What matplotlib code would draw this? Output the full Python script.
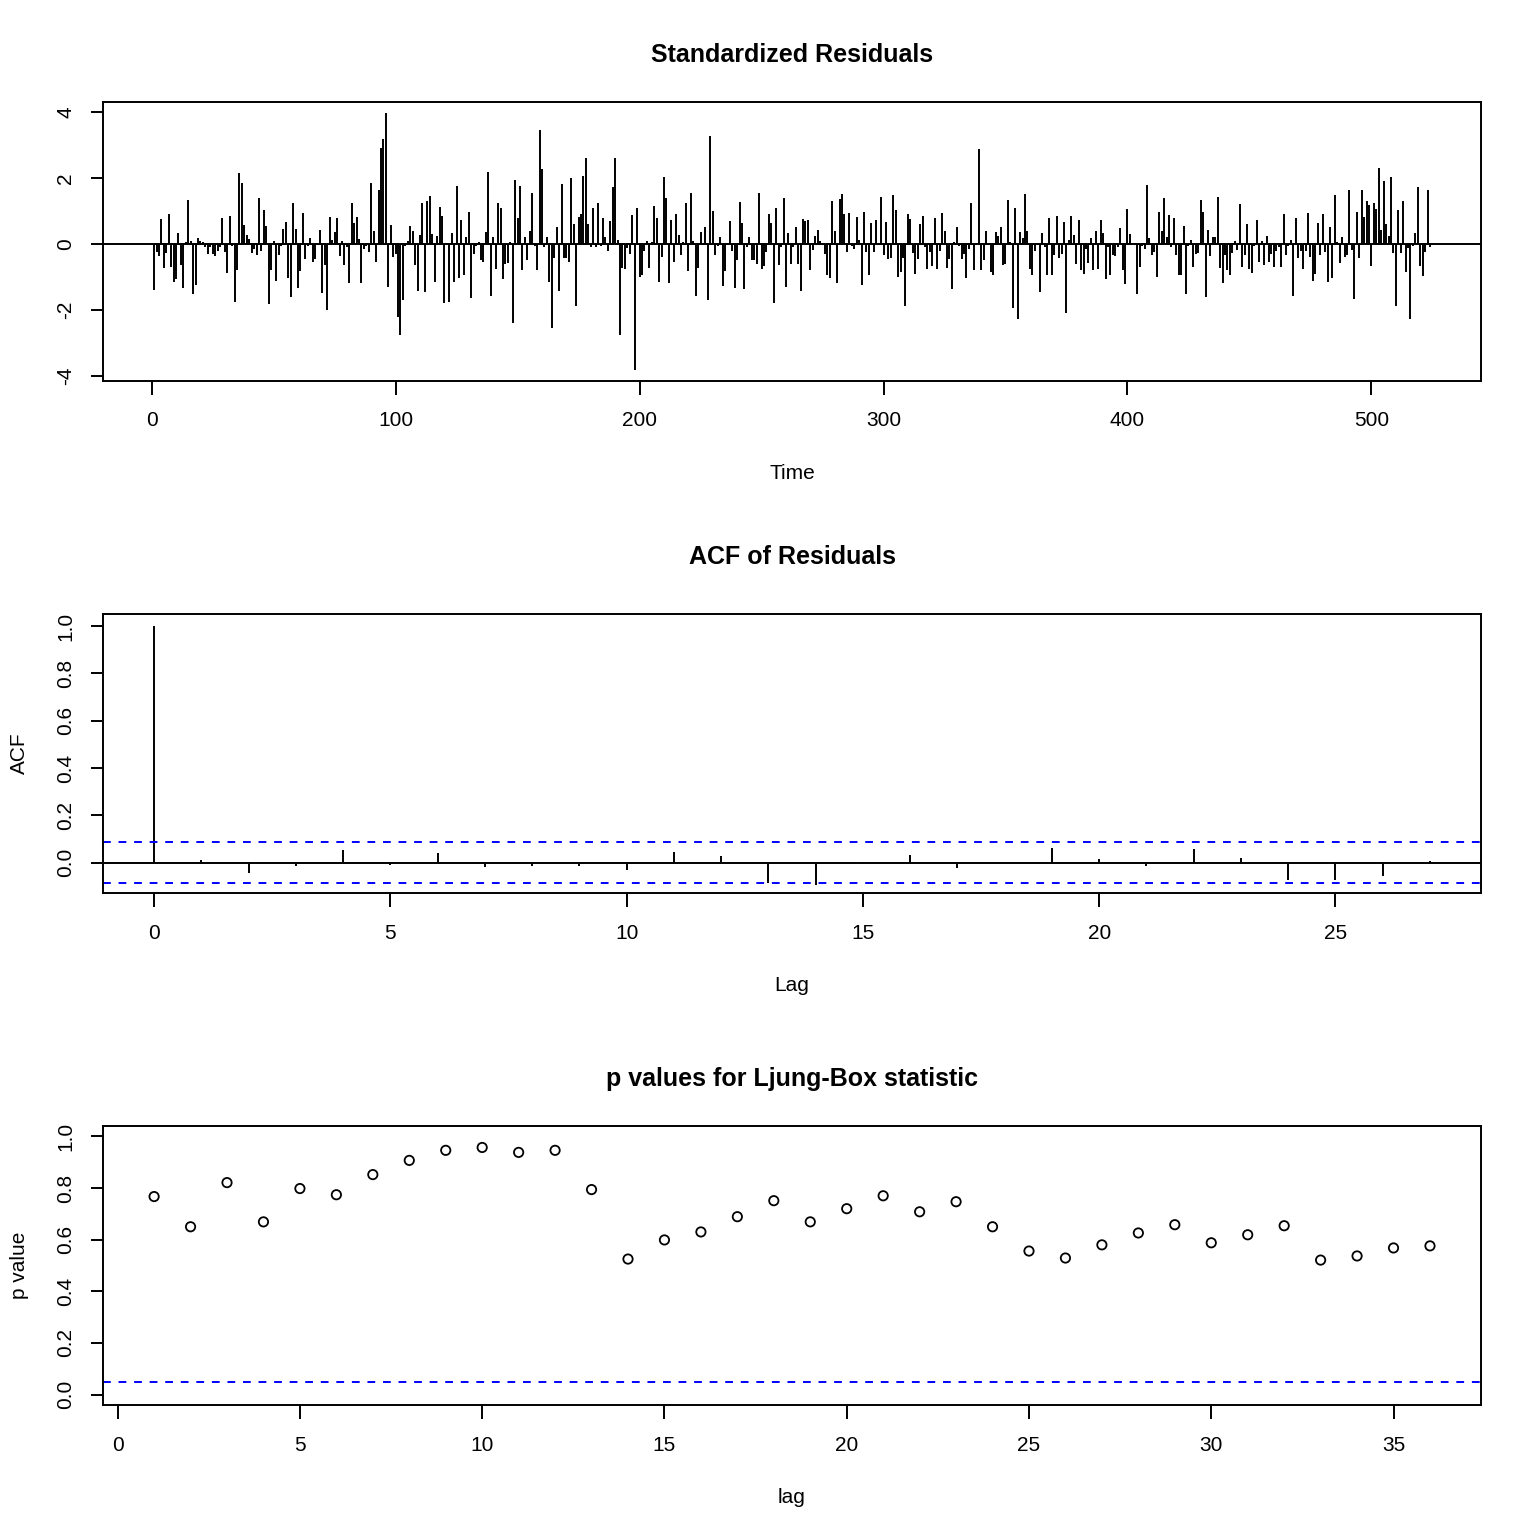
import matplotlib
matplotlib.use('Agg')
import matplotlib.pyplot as plt
import numpy as np

plt.rcParams['font.family'] = ['Liberation Sans', 'DejaVu Sans']
plt.rcParams['axes.unicode_minus'] = False

# standardized residuals, t = 1..524
resid = [
    -1.39, -0.25, -0.38, 0.75, -0.73, -0.28, 0.9, -0.7, -1.15, -1.06, 0.32, -0.63, -1.33, 0.05, 1.32, 0.08,
    -1.53, -1.24, 0.17, 0.1, 0.05, -0.08, -0.3, -0.1, -0.3, -0.38, -0.2, -0.1, 0.8, -0.25, -0.88, 0.86, -0.05,
    -1.77, -0.8, 2.15, 1.85, 0.58, 0.27, 0.15, -0.27, -0.15, -0.35, 1.4, -0.2, 1.04, 0.54, -1.82, -0.78, 0.08,
    -1.13, -0.35, -0.05, 0.44, 0.68, -1.03, -1.62, 1.25, 0.44, -1.33, -0.82, 0.93, -0.45, -0.05,
    0.17, -0.55, -0.45, -0.02, 0.43, -1.5, -0.65, -2.0, 0.83, 0.11, 0.35, 0.8, -0.38, 0.08, -0.63, -0.08,
    -1.2, 1.23, 0.65, 0.83, 0.15, -1.2, -0.15, -0.05, -0.25, 1.86, 0.4, -0.55, 1.65, 2.9, 3.2, 3.97, -1.3,
    0.58, -0.4, -0.3, -2.22, -2.77, -1.7, -0.05, 0.1, 0.55, 0.4, -0.65, -1.43, 0.28, 1.25, -1.45, 1.3, 1.47,
    0.3, -1.15, 0.23, 1.13, 0.84, -1.78, 0.03, -1.75, 0.32, -1.15, 1.77, -1.03, 0.72, -0.95, 0.2, 0.96,
    -1.65, -0.3, -0.05, 0.05, -0.5, -0.55, 0.35, 2.18, -1.57, 0.22, -0.75, 1.25, 1.08, -1.05, -0.6, -0.58,
    0.05, -2.4, 1.95, 0.8, 1.75, -0.8, 0.22, -0.48, 0.4, 1.56, -0.05, -0.78, 3.45, 2.27, -0.1, 0.2, -1.15,
    -2.54, -0.42, 0.5, -1.42, 1.83, -0.42, -0.42, -0.55, 2.0, 0.6, -1.87, 0.83, 0.9, 2.05, 2.6, 0.6, -0.08,
    1.08, -0.1, 1.23, -0.05, 0.78, 0.22, -0.2, 0.7, 1.74, 2.62, 0.13, -2.78, -0.73, -0.75, -0.13,
    -0.3, 0.87, -3.84, 1.1, -1.0, -0.95, -0.2, 0.08, -0.73, 0.05, 1.16, 0.8, -1.15, -0.4, 2.03, 1.4, -1.18,
    0.73, -0.55, 0.9, 0.27, -0.35, 0.05, 1.25, -0.82, 1.55, 0.1, -1.58, -0.73, 0.35, -0.02, 0.5, -1.7, 3.28,
    1.0, -0.35, -0.05, 0.2, -1.28, -0.82, -0.02, 0.7, -0.2, -1.33, -0.5, 1.28, 0.65, -1.37, -0.1, 0.2, -0.5,
    -0.5, -0.62, 1.55, -0.75, -0.68, -0.25, 0.9, 0.65, -1.78, 1.1, -0.63, -0.1, 1.38, -1.3, 0.32,
    -0.6, -0.1, 0.5, -0.6, -1.42, 0.77, 0.7, 0.73, -0.78, -0.18, 0.25, 0.43, 0.1, -0.02, -0.3, -0.93, -1.03,
    1.3, 0.4, -1.2, 1.37, 1.52, 0.9, -0.25, 0.95, -0.05, -0.15, 0.83, 0.13, -1.24, 0.98, -0.23, -0.95, 0.65,
    -0.23, 0.72, -0.02, 1.44, -0.35, 0.68, -0.45, -0.43, 1.5, 1.02, -1.0, -0.85, -0.42, -1.88, 0.92, 0.77,
    -0.28, -0.9, -0.45, 0.62, 0.86, -0.1, -0.75, -0.25, -0.68, 0.8, -0.75, -0.2, 0.95, 0.4, -0.72, -0.45,
    -1.37, 0.05, 0.5, -0.05, -0.45, -0.3, -1.03, -0.15, 1.25, -0.8, -0.02, 2.88, -0.78, -0.5, 0.4, -0.02,
    -0.85, -0.95, 0.35, 0.23, 0.5, -0.65, -0.62, 1.32, 0.05, -1.95, 1.08, -2.28, 0.35, 0.17, 1.53, 0.38,
    -0.75, -0.95, -0.2, -0.03, -1.45, 0.32, -0.1, -0.93, 0.78, -0.95, -0.35, 0.86, -0.42, -0.3, 0.68, -2.1,
    0.13, 0.84, 0.26, -0.6, 0.73, -0.8, -0.9, -0.15, -0.58, 0.17, -0.8, 0.4, -0.75, 0.72, 0.32, -1.05,
    -0.1, -0.93, -0.33, -0.38, -0.08, 0.47, -0.78, -1.22, 1.05, 0.3, 0.03, 0.02, -1.53, -0.7, -0.05, -0.15,
    1.8, 0.17, -0.35, -0.25, -1.0, 0.98, 0.38, 1.4, 0.2, 0.87, -0.1, 0.8, -0.35, -0.93, -0.93, 0.53, -1.52,
    -0.05, 0.13, -0.7, -0.3, -0.28, 1.32, 0.98, -1.6, 0.43, -0.38, 0.22, 0.2, 1.44, -0.72, -1.18, -0.33,
    -0.8, -0.95, -0.28, 0.08, -0.18, 1.22, -0.7, -0.35, 0.6, -0.75, -0.88, -0.05, 0.73, -0.55, 0.08, -0.63,
    0.25, -0.55,
    -0.3, -0.7, -0.2, -0.1, -0.7, 0.92, -0.35, -0.05, 0.13, -1.57, 0.8, -0.43, -0.2, -0.75, -0.2, 0.95,
    -0.4, -1.12, -0.9, 0.65, -0.35, 0.9, -0.25, -1.15, 0.5, -1.03, 1.48, 0.05, -0.58, 0.22, -0.4, -0.35,
    1.64, -0.18, -1.67, 0.98, -0.42, 1.65, 0.83, 1.3, 1.17, -0.67, 1.23, 1.05, 2.3, 0.43, 1.9, 0.6, 0.23,
    2.02, -0.28, -1.88, 1.02, -0.28, 1.29, -0.85, -0.12, -2.28, -0.05, 0.33, 1.74, -0.67, -0.97, -0.25,
    1.65, -0.08,
]

acf_lags = list(range(28))
acf_vals = [1.0, 0.01, -0.042, -0.013, 0.054, -0.008, 0.041, -0.017, -0.014, -0.014, -0.031,
            0.045, 0.028, -0.085, -0.095, 0.002, 0.034, -0.021, 0.001, 0.062, 0.016, -0.013,
            0.058, 0.02, -0.074, -0.074, -0.057, 0.006]

lb_lags = list(range(1, 37))
lb_pvals = [0.767, 0.650, 0.821, 0.669, 0.798, 0.774, 0.852, 0.907, 0.946, 0.957, 0.938, 0.946,
            0.794, 0.525, 0.599, 0.630, 0.689, 0.751, 0.669, 0.720, 0.770, 0.708, 0.747, 0.650,
            0.556, 0.529, 0.580, 0.626, 0.658, 0.588, 0.619, 0.654, 0.521, 0.537, 0.568, 0.576]

n = len(resid)
t = np.arange(1, n + 1)
clim = 1.96 / np.sqrt(n)

TICK = 15
TITLE = 18


def style(ax):
    for s in ax.spines.values():
        s.set_linewidth(1.4)
    ax.tick_params(axis='x', direction='out', length=10, width=1.4, labelsize=TICK, pad=12)
    ax.tick_params(axis='y', direction='out', length=9, width=1.4, labelsize=TICK, pad=11,
                   labelrotation=90)
    for lab in ax.get_yticklabels():
        lab.set_va('center')


fig = plt.figure(figsize=(15.36, 15.36), dpi=100)
L, W, H = 0.0671, 0.8971, 0.1816

# residuals
ax1 = fig.add_axes([L, 0.752, W, H])
ax1.vlines(t, 0, resid, color='black', linewidth=1.4)
ax1.axhline(0, color='black', linewidth=1.4)
ax1.set_xlim(1 - 0.04 * (n - 1), n + 0.04 * (n - 1))
ax1.set_ylim(-4.16, 4.31)
ax1.set_xticks([0, 100, 200, 300, 400, 500])
ax1.set_yticks([-4, -2, 0, 2, 4])
style(ax1)
ax1.set_xlabel('Time', fontsize=TICK, labelpad=24)
ax1.set_title('Standardized Residuals', fontsize=TITLE, fontweight='bold', pad=29)

# ACF
ax2 = fig.add_axes([L, 0.4186, W, H])
ax2.vlines(acf_lags, 0, acf_vals, color='black', linewidth=1.4)
ax2.axhline(0, color='black', linewidth=1.4)
ax2.axhline(clim, color='blue', linewidth=1.4, linestyle=(0, (4, 4)))
ax2.axhline(-clim, color='blue', linewidth=1.4, linestyle=(0, (4, 4)))
ax2.set_xlim(-1.08, 28.08)
ax2.set_ylim(-0.128, 1.051)
ax2.set_xticks([0, 5, 10, 15, 20, 25])
ax2.set_yticks([0.0, 0.2, 0.4, 0.6, 0.8, 1.0])
ax2.set_yticklabels(['0.0', '0.2', '0.4', '0.6', '0.8', '1.0'])
style(ax2)
ax2.set_xlabel('Lag', fontsize=TICK, labelpad=24)
ax2.set_ylabel('ACF', fontsize=TICK, labelpad=20)
ax2.set_title('ACF of Residuals', fontsize=TITLE, fontweight='bold', pad=36)

# Ljung-Box p values
ax3 = fig.add_axes([L, 0.0853, W, H])
ax3.scatter(lb_lags, lb_pvals, s=45, facecolors='none', edgecolors='black', linewidths=1.3)
ax3.axhline(0.05, color='blue', linewidth=1.4, linestyle=(0, (4, 4)))
ax3.set_xlim(-0.4, 37.4)
ax3.set_ylim(-0.04, 1.04)
ax3.set_xticks([0, 5, 10, 15, 20, 25, 30, 35])
ax3.set_yticks([0.0, 0.2, 0.4, 0.6, 0.8, 1.0])
ax3.set_yticklabels(['0.0', '0.2', '0.4', '0.6', '0.8', '1.0'])
style(ax3)
ax3.set_xlabel('lag', fontsize=TICK, labelpad=24)
ax3.set_ylabel('p value', fontsize=TICK, labelpad=20)
ax3.set_title('p values for Ljung-Box statistic', fontsize=TITLE, fontweight='bold', pad=29)

fig.savefig('out.png', dpi=100)
